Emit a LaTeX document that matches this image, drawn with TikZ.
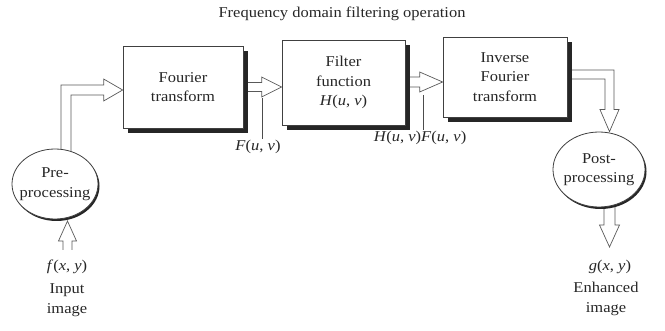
\documentclass[tikz,border=0pt]{standalone}
\usepackage{fontspec}
\setmainfont{Liberation Serif}[FakeStretch=1.1]
\usetikzlibrary{shapes.geometric,shadows,calc}
\pgfdeclarelayer{bg}
\pgfsetlayers{bg,main}

% hollow block arrows; #3 shaft half-width, #4 head half-width, #5 head length
\newcommand\rightblk[5]{\draw[blk] let \p1=(#1), \p2=(#2) in
  (\x1,\y1+#3) -- (\x2-#5,\y1+#3) -- (\x2-#5,\y1+#4) -- (\x2,\y1)
  -- (\x2-#5,\y1-#4) -- (\x2-#5,\y1-#3) -- (\x1,\y1-#3);}
\newcommand\upblk[5]{\draw[blk] let \p1=(#1), \p2=(#2) in
  (\x1-#3,\y1) -- (\x1-#3,\y2-#5) -- (\x1-#4,\y2-#5) -- (\x1,\y2)
  -- (\x1+#4,\y2-#5) -- (\x1+#3,\y2-#5) -- (\x1+#3,\y1);}
\newcommand\downblk[5]{\draw[blk] let \p1=(#1), \p2=(#2) in
  (\x1-#3,\y1) -- (\x1-#3,\y2+#5) -- (\x1-#4,\y2+#5) -- (\x1,\y2)
  -- (\x1+#4,\y2+#5) -- (\x1+#3,\y2+#5) -- (\x1+#3,\y1);}
% up then right: #1 start, #2 corner, #3 tip
\newcommand\uprightblk[6]{\draw[blk] let \p1=(#1), \p2=(#2), \p3=(#3) in
  (\x1-#4,\y1) -- (\x1-#4,\y2+#4) -- (\x3-#6,\y2+#4) -- (\x3-#6,\y2+#5)
  -- (\x3,\y2) -- (\x3-#6,\y2-#5) -- (\x3-#6,\y2-#4) -- (\x1+#4,\y2-#4)
  -- (\x1+#4,\y1);}
% right then down: #1 start, #2 corner, #3 tip
\newcommand\rightdownblk[6]{\draw[blk] let \p1=(#1), \p2=(#2), \p3=(#3) in
  (\x1,\y2+#4) -- (\x2+#4,\y2+#4) -- (\x2+#4,\y3+#6) -- (\x2+#5,\y3+#6)
  -- (\x2,\y3) -- (\x2-#5,\y3+#6) -- (\x2-#4,\y3+#6) -- (\x2-#4,\y2-#4)
  -- (\x1,\y2-#4);}

\begin{document}
\begin{tikzpicture}[x=1pt,y=-1pt,
  every node/.style={text=black!85, font=\fontsize{15}{19.5}\selectfont},
  stagebox/.style={draw=black!75, line width=0.7pt, fill=white, align=center,
    inner sep=0pt,
    drop shadow={shadow xshift=5pt, shadow yshift=-5pt, fill=black!85, opacity=1}},
  oval/.style={ellipse, draw=black!75, line width=0.8pt, fill=white, align=center,
    inner sep=-12pt,
    drop shadow={shadow xshift=1.5pt, shadow yshift=-2pt, fill=black!85, opacity=1}},
  blk/.style={draw=black!65, line width=0.7pt, fill=white, line join=miter},
  ptr/.style={draw=black!70, line width=0.7pt},
  lbl/.style={inner sep=1pt, align=center}]
\useasboundingbox (0,0) rectangle (665,331);

\node (title) at (342,14) {Frequency domain filtering operation};

% processing stages
\node[stagebox, minimum width=120pt, minimum height=82pt] (ft) at (183,87) {Fourier\\transform};
\node[stagebox, minimum width=123pt, minimum height=85pt] (ff) at (343.5,82.5)
  {Filter\\function\\\textit{H}(\textit{u}, \textit{v})};
\node[stagebox, minimum width=124pt, minimum height=80pt] (ift) at (505,77)
  {Inverse\\Fourier\\transform};
\node[oval, minimum width=86pt, minimum height=70pt] (pre) at (55,184) {Pre-\\processing};
\node[oval, minimum width=92pt, minimum height=75pt] (post) at (599,169.5) {Post-\\processing};

% signal labels
\node[lbl] (Flab) at (258,147) {\textit{F}(\textit{u}, \textit{v})};
\node[lbl] (HFlab) at (420,138) {\textit{H}(\textit{u}, \textit{v})\textit{F}(\textit{u}, \textit{v})};
\node[lbl] (fin) at (67,267) {\textit{f}(\textit{x}, \textit{y})};
\node[lbl] (inlab) at (67,300) {Input\\image};
\node[lbl] (gout) at (610,267) {\textit{g}(\textit{x}, \textit{y})};
\node[lbl] (outlab) at (606,299) {Enhanced\\image};

% arrow guide points
\coordinate (cA) at (66,90);
\coordinate (lvB) at (0,87);
\coordinate (lvC) at (0,82);
\coordinate (cD) at (609.5,74.5);
\coordinate (gTip) at (609.5,247);
\coordinate (fTail) at (67.5,250);
\coordinate (fTip) at (67.5,221);
\coordinate (pA) at (262,98);
\coordinate (pB) at (423,95);

\begin{pgfonlayer}{bg}
  \uprightblk{cA |- pre.center}{cA}{ft.west}{5pt}{11pt}{19pt}
  \rightblk{ft.east |- lvB}{ff.west}{4.5pt}{10pt}{20pt}
  \rightblk{ff.east |- lvC}{ift.west}{5pt}{10pt}{23pt}
  \rightdownblk{ift.east |- cD}{cD}{cD |- post.north}{4.5pt}{9.5pt}{22pt}
  \downblk{gTip |- post.center}{gTip}{5.5pt}{10pt}{22pt}
\end{pgfonlayer}
% input arrow, its tip on the rim of the pre-processing stage
\upblk{fTail}{fTip}{4.5pt}{9pt}{20pt}

% pointers from labels to the signals they name
\draw[ptr] (pA) -- (pA |- Flab.north);
\draw[ptr] (pB) -- (pB |- HFlab.north);
\end{tikzpicture}
\end{document}
